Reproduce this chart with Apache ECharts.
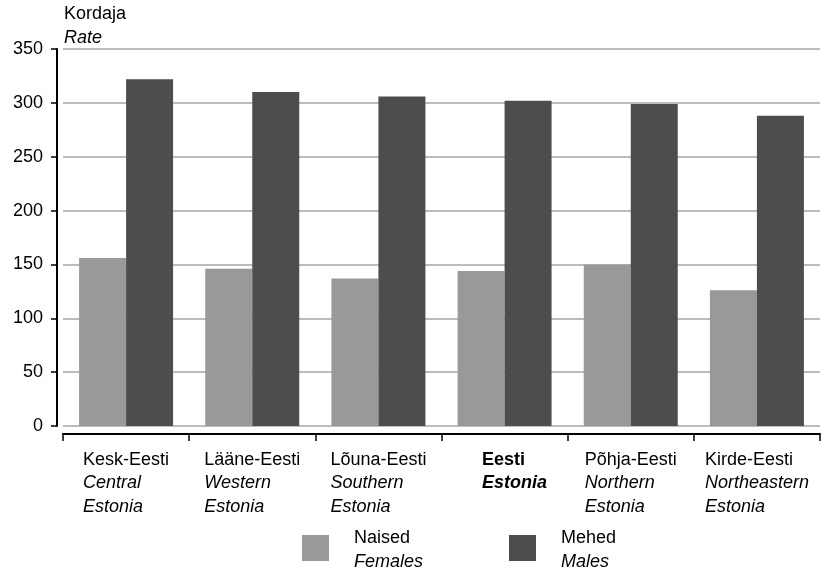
<!DOCTYPE html>
<html>
<head>
<meta charset="utf-8">
<script src="https://cdn.jsdelivr.net/npm/echarts@6/dist/echarts.min.js"></script>
<style>
html,body{margin:0;padding:0;background:#fff;}
#chart{width:822px;height:574px;}
</style>
</head>
<body>
<div id="chart"></div>
<script>
var categoriesEt = ['Kesk-Eesti', 'Lääne-Eesti', 'Lõuna-Eesti', 'Eesti', 'Põhja-Eesti', 'Kirde-Eesti'];
var categoriesEn1 = ['Central', 'Western', 'Southern', 'Estonia', 'Northern', 'Northeastern'];
var categoriesEn2 = ['Estonia', 'Estonia', 'Estonia', '', 'Estonia', 'Estonia'];
var females = [156, 146, 137, 144, 150, 126];
var males = [322, 310, 306, 302, 299, 288];
var yTicks = [0, 50, 100, 150, 200, 250, 300, 350];

var FONT = '"Liberation Sans", Arial, sans-serif';
var FS = 18;
var LH = 23.5;

var chart = echarts.init(document.getElementById('chart'), null, {renderer: 'canvas'});

function txt(extra) {
  var s = {fontFamily: FONT, fontSize: FS, lineHeight: LH, color: '#000', fontWeight: 'normal', align: 'left'};
  for (var k in extra) s[k] = extra[k];
  return s;
}

var option = {
  animation: false,
  backgroundColor: '#ffffff',
  textStyle: {fontFamily: FONT},
  title: {
    left: 64, top: 2, padding: 0,
    text: '{a|Kordaja}\n{b|Rate}',
    textStyle: {
      fontWeight: 'normal',
      rich: {
        a: txt({lineHeight: 24}),
        b: txt({fontStyle: 'italic', lineHeight: 24})
      }
    }
  },
  legend: [
    {
      left: 302, top: 529, padding: 0,
      itemWidth: 27, itemHeight: 26,
      icon: 'rect',
      data: ['Naised'],
      formatter: function () { return '{a|Naised}\n{b|Females}'; },
      textStyle: {
        padding: [4, 0, 0, 20],
        rich: {a: txt({lineHeight: 24}), b: txt({fontStyle: 'italic', lineHeight: 24})}
      }
    },
    {
      left: 509, top: 529, padding: 0,
      itemWidth: 27, itemHeight: 26,
      icon: 'rect',
      data: ['Mehed'],
      formatter: function () { return '{a|Mehed}\n{b|Males}'; },
      textStyle: {
        padding: [4, 0, 0, 20],
        rich: {a: txt({lineHeight: 24}), b: txt({fontStyle: 'italic', lineHeight: 24})}
      }
    }
  ],
  grid: {left: 63, right: 2, top: 49, bottom: 148, containLabel: false},
  xAxis: {
    type: 'category',
    data: categoriesEt,
    offset: 8,
    boundaryGap: true,
    axisLine: {show: true, onZero: false, lineStyle: {color: '#000', width: 2}},
    axisTick: {show: true, length: 7, lineStyle: {color: '#000', width: 1.5}},
    axisLabel: {
      margin: 14,
      interval: 0,
      align: 'center',
      verticalAlign: 'top',
      formatter: function (v, i) {
        if (v === 'Eesti') {
          return '{c|' + v + '}\n{d|' + categoriesEn1[i] + '}';
        }
        return '{a|' + v + '}\n{b|' + categoriesEn1[i] + '}\n{b|' + categoriesEn2[i] + '}';
      },
      rich: {
        a: txt({}),
        b: txt({fontStyle: 'italic'}),
        c: txt({fontWeight: 'bold', padding: [0, 0, 0, 20]}),
        d: txt({fontWeight: 'bold', fontStyle: 'italic', padding: [0, 0, 0, 20]})
      }
    },
    splitLine: {show: false}
  },
  yAxis: {
    type: 'value',
    min: yTicks[0],
    max: yTicks[yTicks.length - 1],
    interval: 50,
    offset: 6,
    axisLine: {show: true, lineStyle: {color: '#000', width: 2}},
    axisTick: {show: true, length: 6, lineStyle: {color: '#000', width: 1.5}},
    axisLabel: {
      margin: 14,
      fontFamily: FONT, fontSize: FS, color: '#000',
      formatter: function (v) { return yTicks.indexOf(v) >= 0 ? String(v) : ''; }
    },
    splitLine: {show: true, lineStyle: {color: '#a6a6a6', width: 1.5}}
  },
  series: [
    {
      name: 'Naised',
      type: 'bar',
      data: females,
      barWidth: 47,
      barGap: '0%',
      itemStyle: {color: '#999999'}
    },
    {
      name: 'Mehed',
      type: 'bar',
      data: males,
      barWidth: 47,
      barGap: '0%',
      itemStyle: {color: '#4d4d4d'}
    }
  ]
};

chart.setOption(option);
</script>
</body>
</html>
